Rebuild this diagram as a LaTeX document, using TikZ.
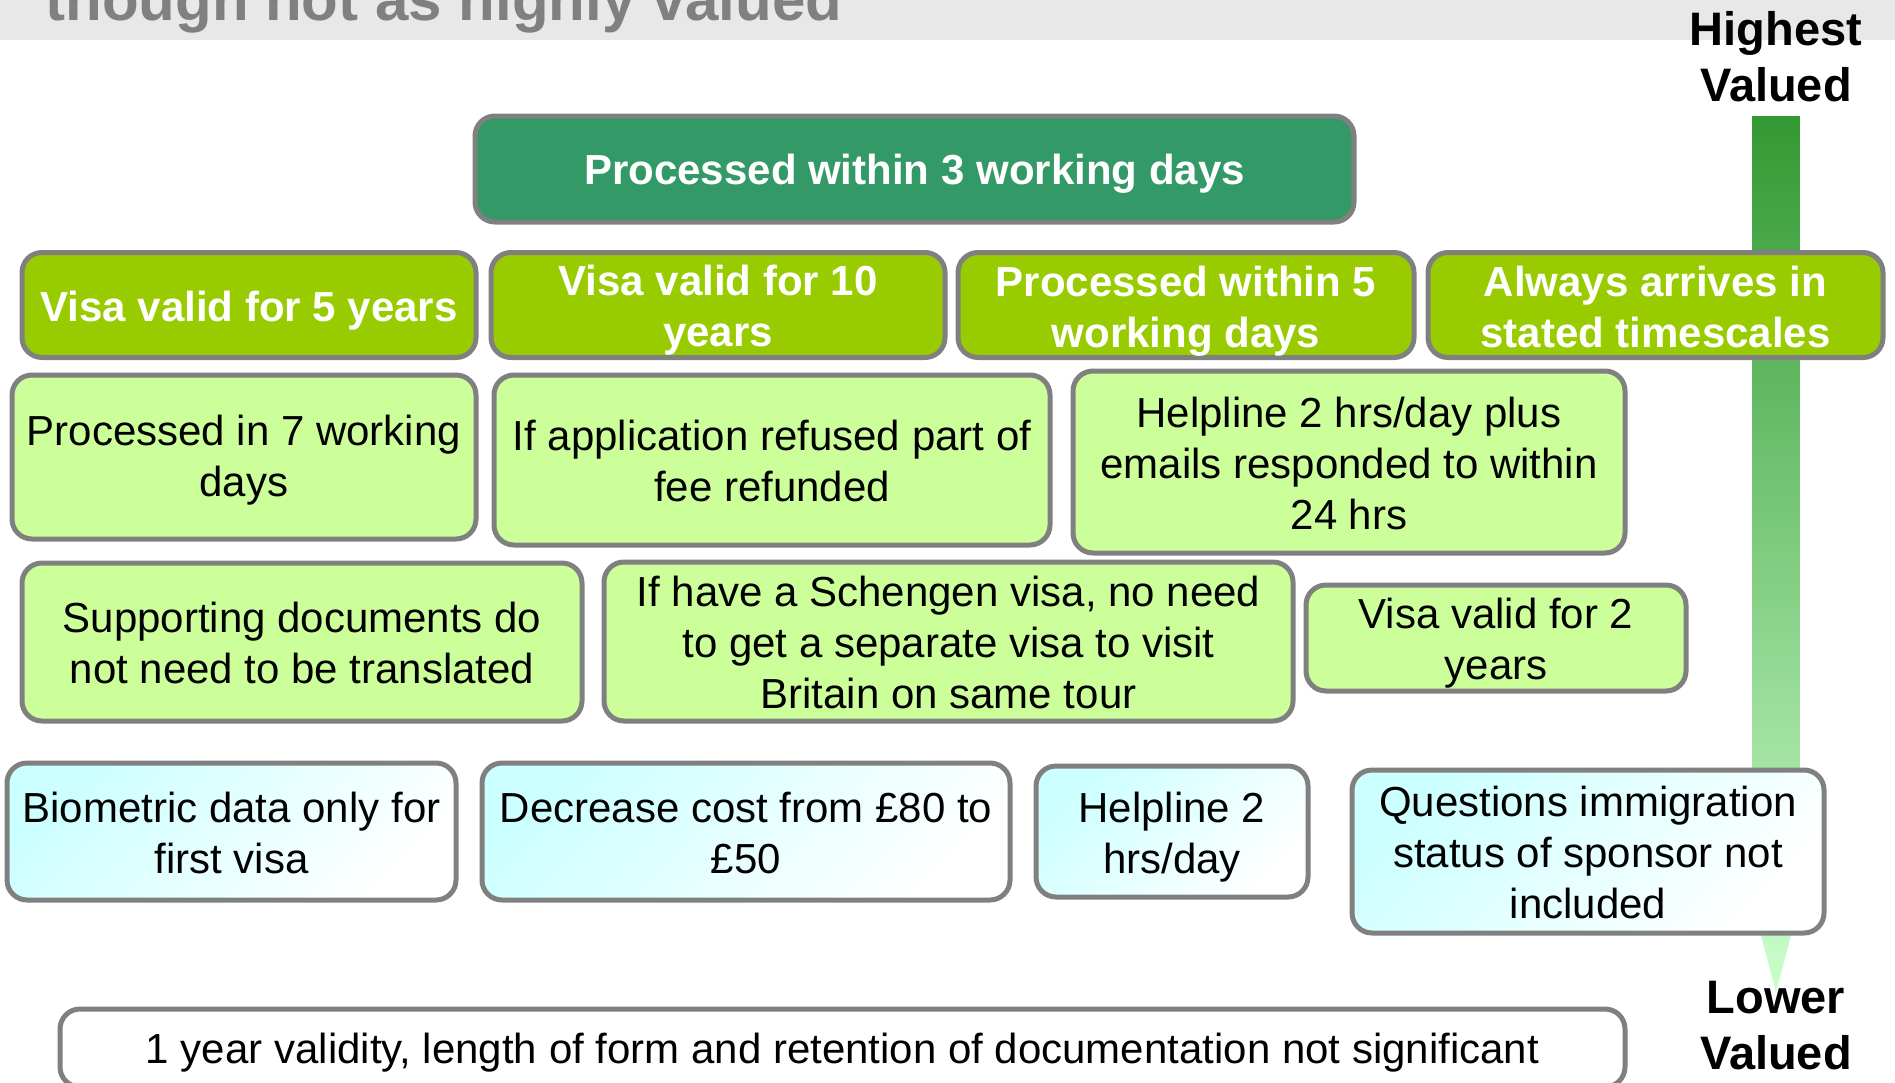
\documentclass[tikz,border=0pt]{standalone}
\usepackage{fontspec}
\setmainfont{Liberation Sans}
\definecolor{bandgray}{HTML}{E8E8E8}
\definecolor{titlegray}{HTML}{808080}
\definecolor{bordergray}{HTML}{808080}
\definecolor{dkgreen}{HTML}{339966}
\definecolor{ygreen}{HTML}{99CC00}
\definecolor{lgreen}{HTML}{CCFF99}
\definecolor{lcyan}{HTML}{CCFFFF}
\definecolor{arrtop}{HTML}{339933}
\definecolor{arrbot}{HTML}{CCFFCC}
\tikzset{
  box/.style={draw=bordergray, line width=2.5pt, rounded corners=10pt, inner sep=0pt},
  topbox/.style={box, fill=dkgreen},
  ybox/.style={box, fill=ygreen},
  gbox/.style={box, fill=lgreen},
  cbox/.style={box, top color=lcyan, bottom color=white, shading angle=45},
  wbox/.style={box, fill=white},
  wtext/.style={align=center, inner sep=0pt, text=white, font=\bfseries\fontsize{21}{25.5}\selectfont},
  btext/.style={align=center, inner sep=0pt, text=black, font=\fontsize{21}{25.5}\selectfont},
  scalelabel/.style={align=center, font=\bfseries\fontsize{23.5}{28}\selectfont, text=black, inner sep=0pt}
}
\begin{document}
\begin{tikzpicture}[x=0.5pt, y=-0.5pt]
\useasboundingbox (0,0) rectangle (1895,1082);
% header band
\fill[bandgray] (0,0) rectangle (1895,40);
\node[anchor=base west, inner sep=0pt, text=titlegray, font=\bfseries\fontsize{30}{36}\selectfont] (title) at (45,20) {though not as highly valued};
% gradient arrow
\shade[top color=arrtop, bottom color=arrbot] (1752,116) -- (1800,116) -- (1800,900) -- (1776,993) -- (1752,900) -- cycle;
\node[scalelabel] (high) at (1776,57) {Highest\\Valued};
\node[scalelabel] (low) at (1776,1025.5) {Lower\\Valued};
% top
\node[topbox, minimum width=439.5pt, minimum height=53pt] (p3) at (914.5,169) {};
\node[wtext] (p3t) at ([yshift=-2.4pt]p3.center) {Processed within 3 working days};
% row 2
\node[ybox, minimum width=227pt, minimum height=52.5pt] (v5) at (249,305) {};
\node[wtext] (v5t) at ([yshift=-3pt]v5.center) {Visa valid for 5 years};
\node[ybox, minimum width=227pt, minimum height=52.5pt] (v10) at (718,305) {};
\node[wtext] (v10t) at ([yshift=-2.7pt]v10.center) {Visa valid for 10\\years};
\node[ybox, minimum width=228pt, minimum height=52.5pt] (p5) at (1186,305) {};
\node[wtext] (p5t) at ([yshift=-3pt]p5.center) {Processed within 5\\working days};
\node[ybox, minimum width=227.5pt, minimum height=52.5pt] (always) at (1655.5,305) {};
\node[wtext] (alwayst) at ([yshift=-1.2pt]always.center) {Always arrives in\\stated timescales};
% row 3
\node[gbox, minimum width=232pt, minimum height=82pt] (p7) at (244,457) {};
\node[btext] (p7t) at ([yshift=-1.8pt]p7.center) {Processed in 7 working\\days};
\node[gbox, minimum width=278pt, minimum height=85pt] (refund) at (772,460) {};
\node[btext] (refundt) at ([yshift=-0.3pt]refund.center) {If application refused part of\\fee refunded};
\node[gbox, minimum width=276pt, minimum height=91pt] (helpplus) at (1349,462) {};
\node[btext] (helpplust) at ([yshift=-0.6pt]helpplus.center) {Helpline 2 hrs/day plus\\emails responded to within\\24 hrs};
% row 4
\node[gbox, minimum width=280pt, minimum height=79pt] (docs) at (302,642) {};
\node[btext] (docst) at ([yshift=-0.6pt]docs.center) {Supporting documents do\\not need to be translated};
\node[gbox, minimum width=344.5pt, minimum height=79.5pt] (schengen) at (948.5,641.5) {};
\node[btext] (schengent) at ([yshift=-0.6pt]schengen.center) {If have a Schengen visa, no need\\to get a separate visa to visit\\Britain on same tour};
\node[gbox, minimum width=190pt, minimum height=53pt] (v2) at (1496,638) {};
\node[btext] (v2t) at ([yshift=-2.7pt]v2.center) {Visa valid for 2\\years};
% row 5
\node[cbox, minimum width=224.5pt, minimum height=68.5pt] (bio) at (231.5,831.5) {};
\node[btext] (biot) at ([yshift=-0.6pt]bio.center) {Biometric data only for\\first visa};
\node[cbox, minimum width=264pt, minimum height=68.5pt] (cost) at (746,831.5) {};
\node[btext] (costt) at ([yshift=-0.6pt]cost.center) {Decrease cost from £80 to\\£50};
\node[cbox, minimum width=136pt, minimum height=65.5pt] (help2) at (1172,831.5) {};
\node[btext] (help2t) at ([yshift=-3pt]help2.center) {Helpline 2\\hrs/day};
\node[cbox, minimum width=236pt, minimum height=81.5pt] (quest) at (1588,851.5) {};
\node[btext] (questt) at ([yshift=-0.6pt]quest.center) {Questions immigration\\status of sponsor not\\included};
% bottom
\node[wbox, minimum width=782.5pt, minimum height=39pt] (bottom) at (842.5,1048) {};
\node[btext] (bottomt) at ([yshift=-2.4pt]bottom.center) {1 year validity, length of form and retention of documentation not significant};
\end{tikzpicture}
\end{document}
